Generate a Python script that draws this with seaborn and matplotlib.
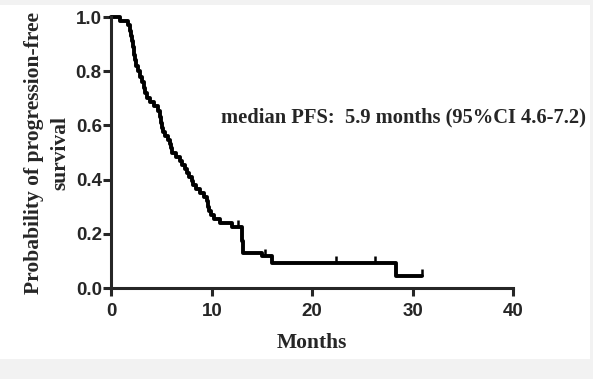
import pandas as pd
import matplotlib.pyplot as plt
import seaborn as sns
from matplotlib.patches import Rectangle

# Kaplan-Meier step points (months, survival after step)
months = [0, 0.8, 1.6, 1.8, 1.9, 2.0, 2.1, 2.2, 2.3, 2.4, 2.6, 2.8, 3.0, 3.2, 3.3,
          3.5, 3.8, 4.2, 4.6, 4.8, 4.9, 5.0, 5.1, 5.3, 5.6, 5.8, 5.9, 6.0, 6.4,
          6.8, 7.0, 7.3, 7.5, 7.7, 8.0, 8.1, 8.4, 8.8, 9.2, 9.5, 9.6, 9.7, 9.9,
          10.2, 10.8, 12.0, 13.0, 13.05, 13.1, 13.15, 15.0, 16.0, 28.3, 30.9]
survival = [1.0, 0.985, 0.97, 0.95, 0.93, 0.91, 0.89, 0.86, 0.84, 0.82, 0.80,
            0.78, 0.76, 0.74, 0.72, 0.70, 0.685, 0.67, 0.655, 0.63, 0.61, 0.59,
            0.575, 0.56, 0.545, 0.53, 0.515, 0.50, 0.485, 0.47, 0.455, 0.44,
            0.425, 0.41, 0.395, 0.38, 0.365, 0.35, 0.335, 0.32, 0.30, 0.285,
            0.27, 0.255, 0.24, 0.225, 0.20, 0.175, 0.15, 0.13, 0.12, 0.092,
            0.046, 0.046]

# censored observations
censor_months = [12.6, 15.3, 22.4, 26.3, 30.9]
censor_surv = [0.225, 0.12, 0.092, 0.092, 0.046]

x_ticks = [0, 10, 20, 30, 40]
y_ticks = [0.0, 0.2, 0.4, 0.6, 0.8, 1.0]
note = "median PFS:  5.9 months (95%CI 4.6-7.2)"

km = pd.DataFrame({'Months': months, 'Survival': survival})
cens = pd.DataFrame({'Months': censor_months, 'Survival': censor_surv})

sns.set_style('ticks')
plt.rcParams['font.family'] = ['Liberation Sans', 'DejaVu Sans']

fig = plt.figure(figsize=(5.93, 3.79), dpi=100)
fig.patch.set_facecolor('white')
# light grey frame strips like the screenshot
grey = '#f2f2f2'
fig.add_artist(Rectangle((0, 0), 1, 20 / 379, transform=fig.transFigure,
                         facecolor=grey, edgecolor='none', zorder=0))
fig.add_artist(Rectangle((0, 1 - 5 / 379), 1, 5 / 379, transform=fig.transFigure,
                         facecolor=grey, edgecolor='none', zorder=0))
fig.add_artist(Rectangle((590 / 593, 0), 3 / 593, 1, transform=fig.transFigure,
                         facecolor=grey, edgecolor='none', zorder=0))

ax = fig.add_axes([0.188, 0.240, 0.677, 0.715])
ax.set_facecolor('none')

sns.lineplot(data=km, x='Months', y='Survival', ax=ax, estimator=None, sort=False,
             drawstyle='steps-post', color='black', linewidth=2.8)
sns.scatterplot(data=cens, x='Months', y='Survival', ax=ax, marker=2, s=22,
                color='black', linewidth=1.8)

ax.set_xlim(0, 40)
ax.set_ylim(0, 1.0)
ax.set_xticks(x_ticks)
ax.set_yticks(y_ticks)
ax.set_xticklabels([str(t) for t in x_ticks], fontsize=13.5, fontweight='bold')
ax.set_yticklabels([f"{t:.1f}" for t in y_ticks], fontsize=13.5, fontweight='bold')
ax.tick_params(width=2.2, length=6)
ax.tick_params(axis='x', pad=5)
ax.tick_params(axis='y', pad=1)
for side in ['left', 'bottom']:
    ax.spines[side].set_linewidth(2.2)
sns.despine(ax=ax)

ax.set_xlabel('Months', fontsize=15.5, fontweight='bold', family='Liberation Serif',
              labelpad=9)
ax.set_ylabel('Probability of progression-free\nsurvival', fontsize=15.5,
              fontweight='bold', family='Liberation Serif', linespacing=1.4,
              labelpad=4)
ax.text(0.272, 0.628, note, transform=ax.transAxes, fontsize=14.8,
        fontweight='bold', family='Liberation Serif', va='center')

for line in ax.lines:
    line.set_clip_on(False)
for coll in ax.collections:
    coll.set_clip_on(False)

fig.savefig('out.png', dpi=100)
